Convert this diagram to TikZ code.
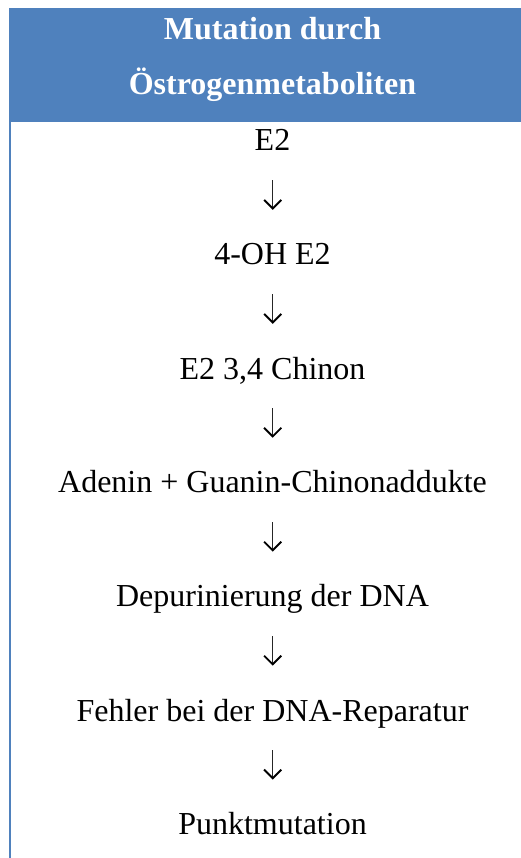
\documentclass[tikz,border=0pt]{standalone}
\usepackage{fontspec}
\setmainfont{Liberation Serif}
\definecolor{headblue}{RGB}{79,129,189}
\begin{document}
\begin{tikzpicture}[x=1pt,y=-1pt,
  every node/.style={inner sep=0pt, outer sep=0pt, anchor=base},
  headtext/.style={text=white, font=\fontsize{32}{38}\selectfont\bfseries},
  steptext/.style={text=black, font=\fontsize{32}{38}\selectfont},
  flowdown/.pic={
    % stem, then an open chevron head whose point is at the origin
    \draw[line width=1.5pt, black!85] (0,-29) -- (0,-1.5);
    \draw[line width=1.9pt, black, line join=miter, miter limit=4, line cap=butt]
      (-8.6,-9.4) -- (0,-0.8) -- (8.6,-9.4);
  }]
  \useasboundingbox (0,0) rectangle (521,858);
  % header band and left rule of the table cell
  \fill[headblue] (9,8) rectangle (521,122);
  \fill[headblue] (9,122) rectangle (11,858);
  % header
  \node[headtext] (h1) at (272.5,39.3) {Mutation durch};
  \node[headtext] (h2) at (272.5,94.3) {Östrogenmetaboliten};
  % chain of steps
  \node[steptext] (s1) at (272.5,151) {E2};
  \node[steptext] (s2) at (272.5,265) {4-OH E2};
  \node[steptext] (s3) at (272.5,379) {E2 3,4 Chinon};
  \node[steptext] (s4) at (272.5,492.7) {Adenin + Guanin-Chinonaddukte};
  \node[steptext] (s5) at (272.5,606.7) {Depurinierung der DNA};
  \node[steptext] (s6) at (272.5,721) {Fehler bei der DNA-Reparatur};
  \node[steptext] (s7) at (272.5,834) {Punktmutation};
  % arrow points between the steps
  \coordinate (a1) at (272.7,209.3);
  \coordinate (a2) at (272.7,323.3);
  \coordinate (a3) at (272.7,437.2);
  \coordinate (a4) at (272.7,551.1);
  \coordinate (a5) at (272.7,665.1);
  \coordinate (a6) at (272.7,779.0);
  \foreach \p in {a1,a2,a3,a4,a5,a6} \pic at (\p) {flowdown};
\end{tikzpicture}
\end{document}
